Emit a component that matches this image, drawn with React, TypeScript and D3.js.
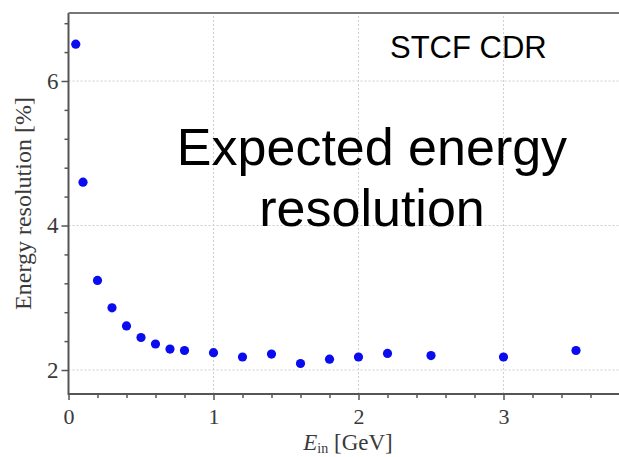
import React, { useEffect, useRef } from 'react';
import * as d3 from 'd3';

// incident energy [GeV] and energy resolution [%]
const energies = [0.05, 0.1, 0.2, 0.3, 0.4, 0.5, 0.6, 0.7, 0.8, 1.0, 1.2, 1.4, 1.6, 1.8, 2.0, 2.2, 2.5, 3.0, 3.5];
const resolution = [6.51, 4.6, 3.24, 2.86, 2.61, 2.45, 2.36, 2.29, 2.27, 2.24, 2.18, 2.22, 2.09, 2.15, 2.18, 2.23, 2.2, 2.18, 2.27];

const xMajor = [0, 1, 2, 3];
const yMajor = [2, 4, 6];
const titleLines = ['Expected energy', 'resolution'];
const tag = 'STCF CDR';

const EnergyResolution = () => {
    const svgRef = useRef<SVGSVGElement>(null);

    useEffect(() => {
        const svg = d3.select(svgRef.current);
        svg.selectAll('*').remove();

        const width = 619;
        const height = 457;
        const axisColor = '#555';
        const textColor = '#3a3a3a';
        const serif = '"Liberation Serif", "Times New Roman", serif';
        const sans = '"Liberation Sans", Arial, sans-serif';

        const x = d3.scaleLinear().domain([0, 4]).range([68.5, 648.5]);
        const y = d3.scaleLinear().domain([1.668, 6.941]).range([394, 13]);

        const [x0, x1] = x.range();
        const [yb, yt] = y.range();

        // grid
        const grid = svg.append('g')
            .attr('stroke', '#cfcfcf')
            .attr('stroke-width', 1)
            .attr('stroke-dasharray', '2,2');
        grid.selectAll('line.v')
            .data(xMajor.filter(d => d > 0))
            .enter().append('line')
            .attr('x1', d => x(d)).attr('x2', d => x(d))
            .attr('y1', yb).attr('y2', yt);
        grid.selectAll('line.h')
            .data(yMajor)
            .enter().append('line')
            .attr('x1', x0).attr('x2', x1)
            .attr('y1', d => y(d)).attr('y2', d => y(d));

        // points
        svg.append('g')
            .selectAll('circle')
            .data(energies.map((e, i) => ({ e, r: resolution[i] })))
            .enter().append('circle')
            .attr('cx', d => x(d.e))
            .attr('cy', d => y(d.r))
            .attr('r', 4.6)
            .attr('fill', '#0b0bf0');

        // x axis
        const xMinor = d3.range(0.2, 4, 0.2).filter(d => Math.abs(d - Math.round(d)) > 1e-6);
        svg.append('g')
            .attr('transform', `translate(0,${yb})`)
            .call(d3.axisBottom(x).tickValues(xMinor).tickSize(4).tickFormat(() => ''))
            .call(g => g.select('.domain').remove())
            .call(g => g.selectAll('line').attr('stroke', axisColor).attr('stroke-width', 1.5));
        svg.append('g')
            .attr('transform', `translate(0,${yb})`)
            .call(d3.axisBottom(x).tickValues(xMajor).tickSize(6).tickPadding(8).tickFormat(d3.format('d')))
            .call(g => g.select('.domain').remove())
            .call(g => g.selectAll('line').attr('stroke', axisColor).attr('stroke-width', 1.5))
            .call(g => g.selectAll('text')
                .attr('fill', textColor)
                .style('font-family', serif)
                .style('font-size', '22px'));

        // y axis
        const yMinor = d3.range(2.4, 6.9, 0.4).filter(d => Math.abs(d / 2 - Math.round(d / 2)) > 1e-6);
        svg.append('g')
            .attr('transform', `translate(${x0},0)`)
            .call(d3.axisLeft(y).tickValues(yMinor).tickSize(4).tickFormat(() => ''))
            .call(g => g.select('.domain').remove())
            .call(g => g.selectAll('line').attr('stroke', axisColor).attr('stroke-width', 1.5));
        svg.append('g')
            .attr('transform', `translate(${x0},0)`)
            .call(d3.axisLeft(y).tickValues(yMajor).tickSize(7).tickPadding(3).tickFormat(d3.format('d')))
            .call(g => g.select('.domain').remove())
            .call(g => g.selectAll('line').attr('stroke', axisColor).attr('stroke-width', 1.5))
            .call(g => g.selectAll('text')
                .attr('fill', textColor)
                .style('font-family', serif)
                .style('font-size', '23px'));

        // frame
        svg.append('path')
            .attr('d', `M${x0},${yt}V${yb}H${x1}`)
            .attr('fill', 'none')
            .attr('stroke', axisColor)
            .attr('stroke-width', 2);
        svg.append('line')
            .attr('x1', x0).attr('x2', x1)
            .attr('y1', yt).attr('y2', yt)
            .attr('stroke', '#777')
            .attr('stroke-width', 2);

        // axis titles
        svg.append('text')
            .attr('transform', `translate(31,${(yt + yb) / 2}) rotate(-90)`)
            .attr('text-anchor', 'middle')
            .attr('fill', textColor)
            .style('font-family', serif)
            .style('font-size', '24px')
            .text('Energy resolution [%]');

        const xt = svg.append('text')
            .attr('x', 348)
            .attr('y', 450)
            .attr('text-anchor', 'middle')
            .attr('fill', textColor)
            .style('font-family', serif)
            .style('font-size', '23px');
        xt.append('tspan').style('font-style', 'italic').text('E');
        xt.append('tspan').attr('dy', 3).style('font-size', '14px').text('in');
        xt.append('tspan').attr('dy', -3).text(' [GeV]');

        // annotations
        svg.append('text')
            .attr('x', 390)
            .attr('y', 58)
            .attr('fill', '#000')
            .style('font-family', sans)
            .style('font-size', '31px')
            .text(tag);

        svg.append('g')
            .selectAll('text')
            .data(titleLines)
            .enter().append('text')
            .attr('x', 372)
            .attr('y', (d, i) => 165 + i * 61)
            .attr('text-anchor', 'middle')
            .attr('fill', '#000')
            .style('font-family', sans)
            .style('font-size', '52px')
            .text(d => d);

        svg.attr('width', width).attr('height', height);
    }, []);

    return (
        <svg ref={svgRef} width={619} height={457}
            style={{ position: 'absolute', left: 0, top: 0, background: '#fff' }} />
    );
};

export default function App() {
    return <EnergyResolution />;
}
